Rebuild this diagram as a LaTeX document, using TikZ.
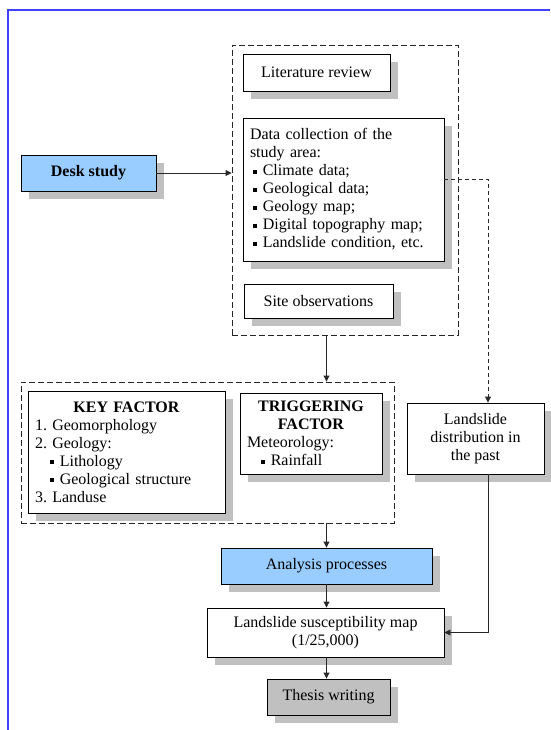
\documentclass[tikz,border=0pt]{standalone}
\usepackage{fontspec}
\setmainfont{Liberation Serif}
\usetikzlibrary{arrows.meta, shadows}

\definecolor{deskblue}{RGB}{153,204,255}
\definecolor{shadowgray}{RGB}{192,192,192}
\definecolor{frameblue}{RGB}{64,64,255}
\definecolor{linegray}{RGB}{40,40,40}

\newcommand{\sqb}{\rule[0.3ex]{3.8pt}{3.8pt}\hspace{6pt}}

\begin{document}
\begin{tikzpicture}[x=1pt, y=-1pt,
  every node/.style={font=\fontsize{16}{18}\selectfont},
  box/.style={draw=black, line width=0.9pt, fill=white, inner sep=0pt,
    drop shadow={shadow xshift=8pt, shadow yshift=-8pt, fill=shadowgray, opacity=1}},
  group/.style={draw=black!85, dash pattern=on 6pt off 3pt, line width=0.9pt, inner sep=0pt},
  flow/.style={-{Triangle[length=6pt, width=6pt]}, line width=0.9pt, linegray},
]
  \useasboundingbox (0,0) rectangle (550,730);

  % Page frame ---------------------------------------------------------------
  \draw[frameblue, line width=1.6pt] (550,10) -- (8,10) -- (8,730);

  % Desk study group -------------------------------------------------------
  \node[group, minimum width=226pt, minimum height=290pt] (collect) at (345,190) {};
  \node[box, minimum width=147pt, minimum height=37pt] (litrev) at (316.5,72.5)
    {Literature review};
  \node[box, minimum width=201pt, minimum height=143pt, text width=187pt,
        inner xsep=7pt, align=left] (datacol) at (343.5,189.5)
    {Data collection of the\\
     study area:\\
     \hspace*{3pt}\sqb Climate data;\\
     \hspace*{3pt}\sqb Geological data;\\
     \hspace*{3pt}\sqb Geology map;\\
     \hspace*{3pt}\sqb Digital topography map;\\
     \hspace*{3pt}\sqb Landslide condition, etc.};
  \node[box, minimum width=149pt, minimum height=34pt] (siteobs) at (318.5,301)
    {Site observations};

  \node[box, fill=deskblue, minimum width=135pt, minimum height=36pt] (desk) at (88.5,173)
    {\textbf{Desk study}};

  % Factors group ------------------------------------------------------------
  \node[group, minimum width=373pt, minimum height=141pt] (factors) at (207.5,452.5) {};
  \node[box, minimum width=197pt, minimum height=122pt, text width=183pt,
        inner xsep=7pt, align=left] (keyfac) at (126.5,452)
    {\makebox[\linewidth]{\textbf{KEY FACTOR}}\\
     1.~Geomorphology\\
     2.~Geology:\\
     \hspace*{15pt}\sqb Lithology\\
     \hspace*{15pt}\sqb Geological structure\\
     3.~Landuse};
  \node[box, minimum width=142pt, minimum height=81pt, text width=128pt,
        inner xsep=7pt, align=left] (trigfac) at (311,433.5)
    {\makebox[\linewidth]{\textbf{TRIGGERING}}\\
     \makebox[\linewidth]{\textbf{FACTOR}}\\
     Meteorology:\\
     \hspace*{14pt}\sqb Rainfall};

  \node[box, minimum width=137pt, minimum height=71pt, align=center] (past) at (475.5,438.5)
    {Landslide\\distribution in\\the past};

  % Lower chain ----------------------------------------------------------------
  \node[box, fill=deskblue, minimum width=211pt, minimum height=36pt] (analysis) at (326.5,566)
    {Analysis processes};
  \node[box, minimum width=237pt, minimum height=49pt, align=center] (suscmap) at (325.5,632.5)
    {Landslide susceptibility map\\(1/25,000)};
  \node[box, fill=shadowgray, minimum width=123pt, minimum height=36pt] (thesis) at (328.5,697)
    {Thesis writing};

  % Connectors -----------------------------------------------------------------
  \coordinate (turn) at (488,179);
  \draw[flow] (desk.east) -- (desk.east -| collect.west);
  \draw[flow, dash pattern=on 4pt off 3pt] (datacol.east |- turn) -- (turn) -- (turn |- past.north);
  \draw[flow] (analysis.north |- collect.south) -- (analysis.north |- factors.north);
  \draw[flow] (analysis.north |- factors.south) -- (analysis.north);
  \draw[flow] (analysis.south) -- (analysis.south |- suscmap.north);
  \draw[flow] (analysis.south |- suscmap.south) -- (analysis.south |- thesis.north);
  \draw[flow] (turn |- past.south) |- (suscmap.east);

\end{tikzpicture}
\end{document}
